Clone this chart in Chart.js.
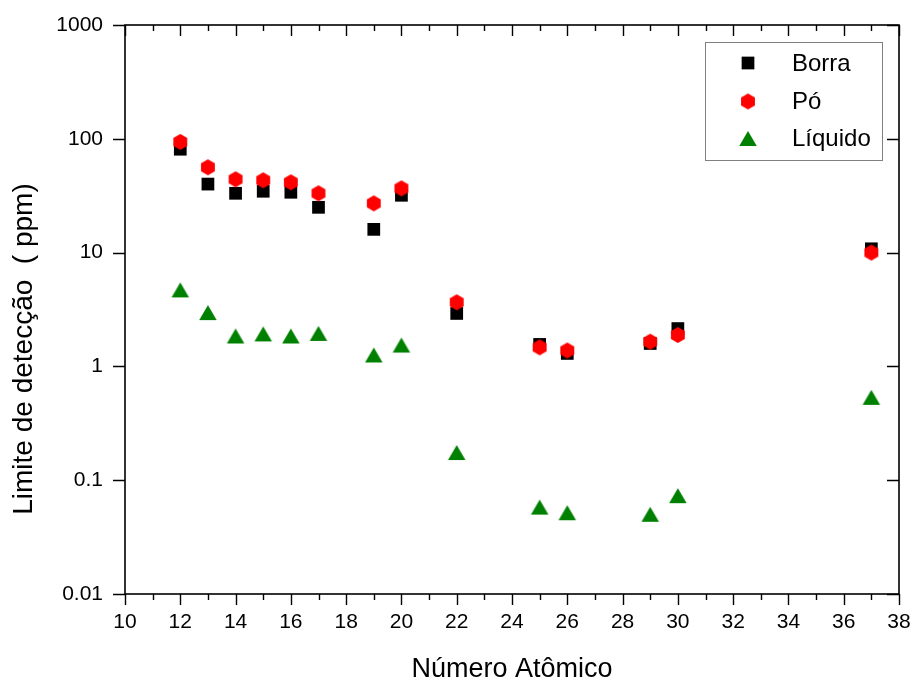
<!DOCTYPE html>
<html>
<head>
<meta charset="utf-8">
<title>Limite de detecção</title>
<script src="https://cdn.jsdelivr.net/npm/chart.js@4/dist/chart.umd.min.js"></script>
<style>
  html, body { margin: 0; padding: 0; background: #ffffff; }
  #c { display: block; }
</style>
</head>
<body>
<canvas id="c" width="914" height="684"></canvas>
<script>
// Detection limits (ppm) by atomic number for three sample forms
const atomicNumbers = [12, 13, 14, 15, 16, 17, 19, 20, 22, 25, 26, 29, 30, 37];
const borra   = [81, 40, 33.2, 34.6, 33.9, 25.0, 16.0, 31.9, 2.92, 1.56, 1.30, 1.59, 2.15, 10.8];
const po      = [93.9, 56.2, 44.1, 43.2, 41.5, 33.2, 27.1, 36.7, 3.66, 1.47, 1.38, 1.65, 1.89, 10.0];
const liquido = [4.70, 2.97, 1.85, 1.93, 1.85, 1.95, 1.26, 1.54, 0.175, 0.058, 0.0518, 0.0502, 0.0731, 0.535];

const seriesNames = ['Borra', 'Pó', 'Líquido'];
const xTitle = 'Número Atômico';
const yTitle = 'Limite de detecção  ( ppm)';
const yTickValues = [0.01, 0.1, 1, 10, 100, 1000];
const yTickLabels = ['0.01', '0.1', '1', '10', '100', '1000'];

const FONT = "'Liberation Sans', Arial, sans-serif";

// Filled hexagon marker (pointy top)
function hexagonMarker(color, r) {
  const size = Math.ceil(2 * r + 2);
  const cv = document.createElement('canvas');
  cv.width = size; cv.height = size;
  const g = cv.getContext('2d');
  const c = size / 2;
  g.beginPath();
  for (let i = 0; i < 6; i++) {
    const a = -Math.PI / 2 + i * Math.PI / 3;
    const px = c + r * Math.cos(a), py = c + r * Math.sin(a);
    if (i === 0) g.moveTo(px, py); else g.lineTo(px, py);
  }
  g.closePath();
  g.fillStyle = color;
  g.fill();
  return cv;
}

// Filled triangle marker centred on its bounding box
function triangleMarker(color, w, h) {
  const cw = Math.ceil(w + 2), ch = Math.ceil(h + 2);
  const cv = document.createElement('canvas');
  cv.width = cw; cv.height = ch;
  const g = cv.getContext('2d');
  const cx = cw / 2, top = (ch - h) / 2;
  g.beginPath();
  g.moveTo(cx, top);
  g.lineTo(cx + w / 2, top + h);
  g.lineTo(cx - w / 2, top + h);
  g.closePath();
  g.fillStyle = color;
  g.fill();
  return cv;
}

const hexRed = hexagonMarker('#ff0000', 8);
const triGreen = triangleMarker('#008000', 17.5, 15);

const toPoints = (vals) => atomicNumbers.map((x, i) => ({ x: x, y: vals[i] }));

// Fixed scale box sizes; plot area is set by layout padding alone
function fixScale(size, horizontal) {
  return function (scale) {
    if (horizontal) scale.height = size; else scale.width = size;
    scale.paddingTop = 0; scale.paddingBottom = 0;
    scale.paddingLeft = 0; scale.paddingRight = 0;
  };
}

// Frame with mirrored ticks: outward on bottom/left, inward on top/right
const framePlugin = {
  id: 'frame',
  afterDraw(chart) {
    const { ctx, chartArea: a, scales } = chart;
    const xs = scales.x, ys = scales.y;
    ctx.save();
    ctx.strokeStyle = '#000';
    ctx.lineWidth = 1.6;
    ctx.strokeRect(a.left, a.top, a.right - a.left, a.bottom - a.top);
    ctx.beginPath();
    for (let v = xs.min; v <= xs.max; v++) {
      const px = Math.round(xs.getPixelForValue(v)) + 0.5;
      const len = (v % 2 === 0) ? 11 : 6;
      ctx.moveTo(px, a.bottom); ctx.lineTo(px, a.bottom + len);
      ctx.moveTo(px, a.top); ctx.lineTo(px, a.top + len);
    }
    yTickValues.forEach(v => {
      const py = Math.round(ys.getPixelForValue(v)) + 0.5;
      ctx.moveTo(a.left - 12, py); ctx.lineTo(a.left, py);
      ctx.moveTo(a.right, py); ctx.lineTo(a.right - 12, py);
    });
    ctx.lineWidth = 1.4;
    ctx.stroke();

    // axis titles
    ctx.fillStyle = '#000';
    ctx.textBaseline = 'alphabetic';
    ctx.textAlign = 'center';
    ctx.font = '27px ' + FONT;
    ctx.fillText(xTitle, (a.left + a.right) / 2, 677);
    ctx.save();
    ctx.translate(32, 349);
    ctx.rotate(-Math.PI / 2);
    ctx.font = '28px ' + FONT;
    ctx.fillText(yTitle, 0, 0);
    ctx.restore();
    ctx.restore();
  }
};

// Boxed legend inside the plot, upper right
const boxLegendPlugin = {
  id: 'boxLegend',
  afterDraw(chart) {
    const { ctx } = chart;
    const box = { x: 705.5, y: 42.5, w: 177, h: 118 };
    const rows = [63, 101.5, 138.5];
    const markerX = 748, textX = 792;
    ctx.save();
    ctx.strokeStyle = '#808080';
    ctx.lineWidth = 1;
    ctx.strokeRect(box.x, box.y, box.w, box.h);
    ctx.font = '24px ' + FONT;
    ctx.textAlign = 'left';
    ctx.textBaseline = 'middle';
    seriesNames.forEach((name, i) => {
      const ds = chart.data.datasets.find(d => d.label === name);
      ctx.fillStyle = ds.backgroundColor;
      Chart.helpers.drawPoint(ctx, {
        pointStyle: ds.pointStyle, radius: ds.pointRadius, rotation: 0, borderWidth: 0
      }, markerX, rows[i]);
      ctx.fillStyle = '#000';
      ctx.fillText(name, textX, rows[i] + 1);
    });
    ctx.restore();
  }
};

new Chart(document.getElementById('c'), {
  type: 'scatter',
  data: {
    datasets: [
      {
        label: seriesNames[0], data: toPoints(borra),
        pointStyle: 'rect', pointRadius: 9, pointBorderWidth: 0,
        backgroundColor: '#000000', borderColor: '#000000', order: 2
      },
      {
        label: seriesNames[1], data: toPoints(po),
        pointStyle: hexRed, pointRadius: 8, pointBorderWidth: 0,
        backgroundColor: '#ff0000', borderColor: '#ff0000', order: 1
      },
      {
        label: seriesNames[2], data: toPoints(liquido),
        pointStyle: triGreen, pointRadius: 9, pointBorderWidth: 0,
        backgroundColor: '#008000', borderColor: '#008000', order: 0
      }
    ]
  },
  options: {
    responsive: false,
    animation: false,
    events: [],
    layout: { padding: { top: 25, right: 15, bottom: 0, left: 0 } },
    plugins: {
      legend: { display: false },
      tooltip: { enabled: false },
      title: { display: false }
    },
    scales: {
      x: {
        type: 'linear',
        min: 10, max: 38,
        grid: { display: false, drawTicks: false },
        border: { display: false },
        ticks: {
          stepSize: 2,
          padding: 16,
          color: '#000',
          font: { family: FONT, size: 21, lineHeight: 1.2 },
          maxRotation: 0,
          autoSkip: false
        },
        afterFit: fixScale(90, true)
      },
      y: {
        type: 'logarithmic',
        min: 0.01, max: 1000,
        grid: { display: false, drawTicks: false },
        border: { display: false },
        afterBuildTicks(scale) {
          scale.ticks = yTickValues.map(v => ({ value: v, major: true }));
        },
        ticks: {
          padding: 22,
          color: '#000',
          font: { family: FONT, size: 21, lineHeight: 1.2 },
          autoSkip: false,
          callback(value) {
            const i = yTickValues.findIndex(t => Math.abs(t - value) < t * 1e-6);
            return i >= 0 ? yTickLabels[i] : '';
          }
        },
        afterFit: fixScale(125, false)
      }
    }
  },
  plugins: [framePlugin, boxLegendPlugin]
});
</script>
</body>
</html>
